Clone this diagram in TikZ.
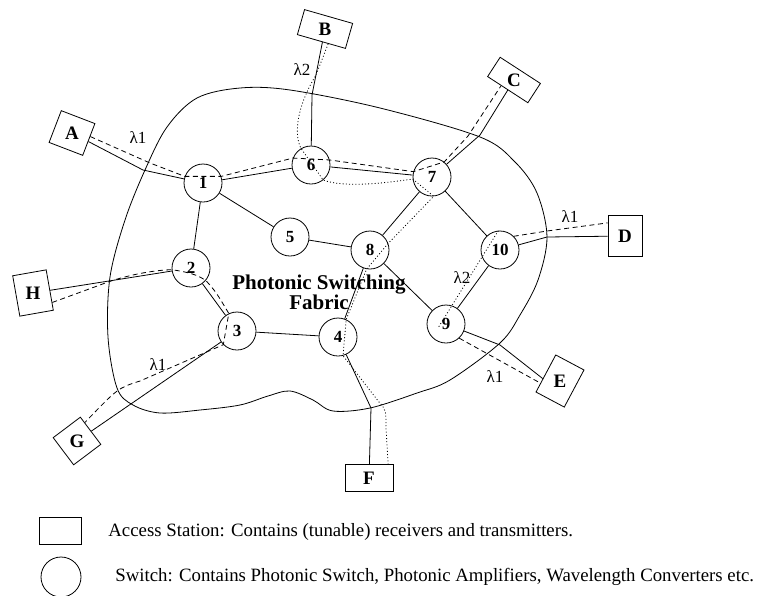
\documentclass[tikz,border=0pt]{standalone}
\usepackage{fontspec}
\setmainfont{Liberation Serif}
\begin{document}
\begin{tikzpicture}[x=1pt, y=-1pt, line width=0.8pt,
  station/.style={draw, inner sep=0pt, font=\bfseries\fontsize{19}{19}\selectfont},
  switch/.style={draw, circle, minimum size=38pt, inner sep=0pt, font=\bfseries\fontsize{17}{17}\selectfont},
  lam/.style={font=\fontsize{17}{17}\selectfont},
  lpone/.style={dash pattern=on 5pt off 3.5pt},
  lptwo/.style={dash pattern=on 1pt off 2.2pt},
  key/.style={anchor=west, inner sep=0pt, font=\fontsize{18.8}{18.8}\selectfont}
]
\useasboundingbox (0,0) rectangle (759,595);
\draw plot[smooth cycle, tension=0.55] coordinates {
  (108,337) (110,277) (125,220) (145,170) (167,127) (197,98) (240,88) (290,90)
  (380,108) (480,137) (515,162) (537,193) (547,237) (538,280) (520,315) (500,343)
  (450,380) (417,393) (370,408) (333,411) (313,400) (290,391) (268,396) (240,405)
  (200,410) (160,413) (133,405) (117,388)};
\node[font=\bfseries\fontsize{21}{20}\selectfont, align=center] (fabric) at (319,292) {Photonic Switching\\Fabric};

\node[switch] (n1) at (203,183) {1};
\node[switch] (n2) at (191,268) {2};
\node[switch] (n3) at (237,331) {3};
\node[switch] (n4) at (338,337) {4};
\node[switch] (n5) at (290,237) {5};
\node[switch] (n6) at (311,165) {6};
\node[switch] (n7) at (432,177) {7};
\node[switch] (n8) at (370,250) {8};
\node[switch] (n9) at (446,324) {9};
\node[switch] (n10) at (500,250) {10};

\node[station, minimum width=36pt, minimum height=34pt, rotate=-21] (A) at (72,133) {\rotatebox{21}{A}};
\node[station, minimum width=50pt, minimum height=26pt, rotate=-16] (B) at (325,29) {\rotatebox{16}{B}};
\node[station, minimum width=48pt, minimum height=23pt, rotate=-33] (C) at (514,80) {\rotatebox{33}{C}};
\node[station, minimum width=34pt, minimum height=41pt] (D) at (625,236) {D};
\node[station, minimum width=32pt, minimum height=42pt, rotate=-28] (E) at (560,381) {\rotatebox{28}{E}};
\node[station, minimum width=48pt, minimum height=27pt] (F) at (369,478) {F};
\node[station, minimum width=34pt, minimum height=34pt, rotate=37] (G) at (77,441) {\rotatebox{-37}{G}};
\node[station, minimum width=34pt, minimum height=41pt, rotate=10] (H) at (33,293) {\rotatebox{-10}{H}};

\coordinate (sA) at (143,170);
\coordinate (dA) at (150,163);
\coordinate (sB) at (312,95);
\coordinate (vB) at (316,75);
\coordinate (sC) at (480,135);
\coordinate (dC) at (468,136);
\coordinate (sD) at (547,237);
\coordinate (dD) at (547,231);
\coordinate (sE) at (500,345);
\coordinate (sF) at (371,408);
\coordinate (vF) at (379,402);
\coordinate (vF2) at (386,428);
\coordinate (dH) at (100,285);
\coordinate (dG) at (140,381);
\coordinate (e9) at (438,328);

\foreach \a/\b in {n1/n6, n1/n5, n1/n2, n6/n7, n5/n8, n7/n8, n7/n10, n8/n9, n8/n4, n10/n9, n2/n3, n3/n4}
  \draw (\a) -- (\b);
\draw (A) -- (sA) -- (n1);
\draw (n6) -- (sB) -- (B);
\draw (n7) -- (sC) -- (C);
\draw (n10) -- (sD) -- (D);
\draw (n9) -- (sE) -- (E.200);
\draw (n4) -- (sF) -- (F);
\draw (H) -- (n2);
\draw (G) -- (n3);

\draw[lpone] (A.10) -- (dA) -- (n1.160) -- (n1.20) -- (n6.159) -- (n6.15) -- (n7.164) -- (n7.51) -- (dC) -- (C.237);
\draw[lpone] (H.-36) -- (dH) .. controls (125,275) and (155,270) .. (n2.185) .. controls (195,273) and (200,277) .. (n2.-40) .. controls (216,292) .. (n3.115) -- (n3.225) -- (dG) .. controls (118,388) .. (G.30);
\draw[lpone] (n10.45) -- (dD) -- (D.143);
\draw[lpone] (n9.-47) -- (E.214);

\draw[lptwo] (B.-62) -- (vB) .. controls (296,108) and (294,135) .. (n6.121) -- (n6.-51) .. controls (345,188) and (385,183) .. (n7.186) -- (n7.-85) -- (n8.20) -- (n8.-100) -- (n4.65) -- (n4.-75) -- (vF) .. controls (386,410) .. (vF2) -- (F.36);
\draw[lptwo] (n10.95) -- (e9);

\node[lam] (lamA) at (138,138) {λ1};
\node[lam] (lamB) at (302,70) {λ2};
\node[lam] (lamD) at (570,217) {λ1};
\node[lam] (lamE) at (495,377) {λ1};
\node[lam] (lamJ) at (462,278) {λ2};
\node[lam] (lamG) at (158,365) {λ1};

\node[draw, minimum width=42pt, minimum height=27pt] (keybox) at (60,531) {};
\node[key] (keyboxtext) at (108,532) {Access Station: Contains (tunable) receivers and transmitters.};
\node[draw, circle, minimum size=40pt] (keysw) at (61,577) {};
\node[key] (keyswtext) at (115,577) {Switch: Contains Photonic Switch, Photonic Amplifiers, Wavelength Converters etc.};
\end{tikzpicture}
\end{document}
